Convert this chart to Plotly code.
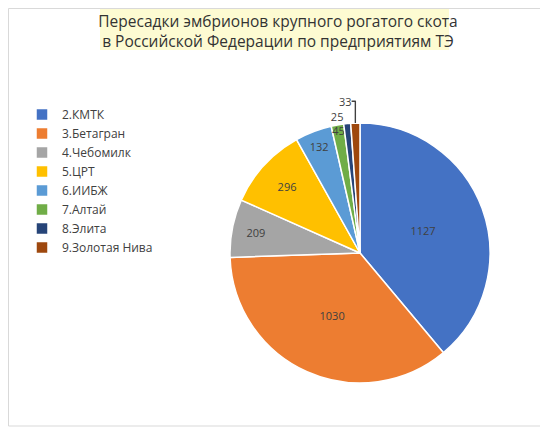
import plotly.graph_objects as go

labels = ["2.КМТК", "3.Бетагран", "4.Чебомилк", "5.ЦРТ", "6.ИИБЖ", "7.Алтай", "8.Элита", "9.Золотая Нива"]
values = [1127, 1030, 209, 296, 132, 45, 25, 33]
colors = ["#4472C4", "#ED7D31", "#A5A5A5", "#FFC000", "#5B9BD5", "#70AD47", "#264478", "#9E480E"]
text_pos = ["inside", "inside", "inside", "inside", "inside", "inside", "outside", "outside"]

# page is offset by 8px (body margin); figure coordinates = page - 8
OFF = 8
W, H = 548 - OFF, 428 - OFF
cx, cy, r = 360 - OFF, 253 - OFF, 130

fig = go.Figure(go.Pie(
    labels=labels, values=values, sort=False, direction="clockwise", rotation=0,
    marker=dict(colors=colors, line=dict(color="white", width=1.5)),
    textinfo="value", textposition=text_pos, insidetextorientation="horizontal",
    textfont=dict(size=11, color="#404040", family="Open Sans"),
    domain=dict(x=[(cx - r) / W, (cx + r) / W], y=[(H - cy - r) / H, (H - cy + r) / H]),
    hoverinfo="label+value",
))

fig.update_layout(
    width=W, height=H, margin=dict(l=0, r=0, t=0, b=0),
    paper_bgcolor="white", plot_bgcolor="white",
    uniformtext=dict(minsize=11, mode="show"),
    title=dict(text="Пересадки эмбрионов крупного рогатого скота<br>в Российской Федерации по предприятиям ТЭ",
               x=0.5, xanchor="center", y=(H - 19) / H, yanchor="middle",
               font=dict(family="Open Sans", size=15.5, color="#333333")),
    legend=dict(x=14 / W, xanchor="left", y=(H - 92) / H, yanchor="top",
                font=dict(family="Open Sans", size=12, color="#404040"),
                bgcolor="rgba(0,0,0,0)"),
    shapes=[
        dict(type="rect", xref="paper", yref="paper", x0=(100 - OFF) / W, x1=(449 - OFF) / W,
             y0=(H - (50 - OFF)) / H, y1=(H - 0) / H, fillcolor="#FDFBD2", line=dict(width=0), layer="below"),
        dict(type="rect", xref="paper", yref="paper", x0=0.5 / W, x1=(541 - OFF) / W,
             y0=(H - (426 - OFF)) / H, y1=(H - 0.5) / H, line=dict(color="#D9D9D9", width=1), layer="below"),
    ],
)

fig.write_html("out.html")
